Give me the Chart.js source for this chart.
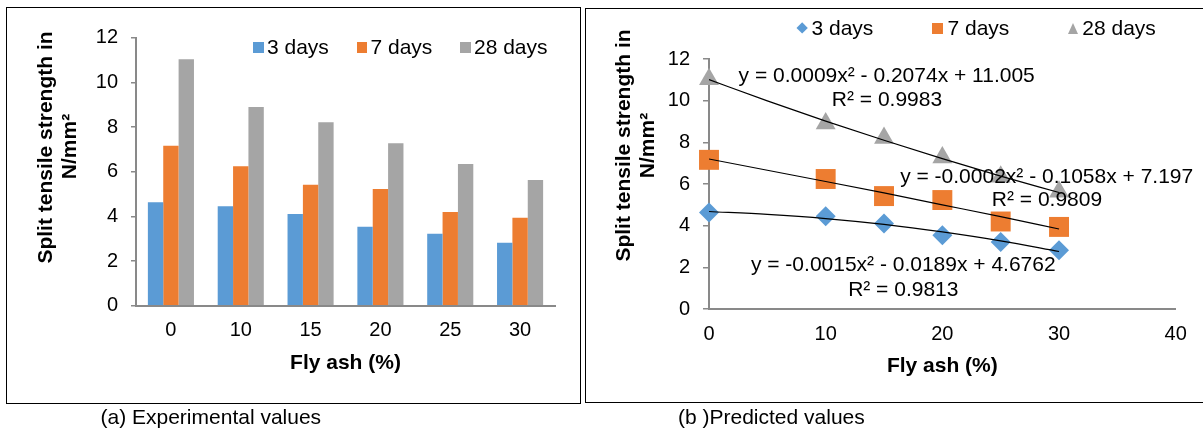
<!DOCTYPE html>
<html>
<head>
<meta charset="utf-8">
<title>Split tensile strength</title>
<script src="https://cdn.jsdelivr.net/npm/chart.js@4.4.1/dist/chart.umd.min.js"></script>
<style>
    html, body { margin: 0; padding: 0; background: #fff; }
    body {
        position: relative;
        width: 1203px;
        height: 432px;
        overflow: hidden;
        font-family: "Liberation Sans", Arial, sans-serif;
        color: #000;
    }
    .panel { position: absolute; border: 1px solid #000; box-sizing: border-box; }
    canvas { position: absolute; top: 0; }
    .txt { position: absolute; white-space: nowrap; }
    .mark { position: absolute; }
</style>
</head>
<body>
<div class="panel" style="left:6px; top:7px; width:575px; height:397px;"></div>
<div class="panel" style="left:585px; top:8px; width:700px; height:395px;"></div>
<canvas id="barChart" width="590" height="432" style="left:0;"></canvas>
<canvas id="scatterChart" width="618" height="432" style="left:585px;"></canvas>

<script>
const flyAsh = [0, 10, 15, 20, 25, 30];
const ageLabels = ['3 days', '7 days', '28 days'];
const strength3 = [4.63, 4.45, 4.11, 3.54, 3.22, 2.82];
const strength7 = [7.16, 6.24, 5.42, 5.23, 4.20, 3.94];
const strength28 = [11.03, 8.90, 8.21, 7.27, 6.35, 5.63];

// trendlines
const trendX = [0, 5, 10, 15, 20, 25, 30];
const trend3 = [4.68, 4.54, 4.34, 4.06, 3.70, 3.27, 2.76];
const trend7 = [7.20, 6.66, 6.12, 5.57, 5.00, 4.43, 3.84];
const trend28 = [11.01, 9.99, 9.02, 8.10, 7.22, 6.38, 5.59];
const trendText = [
    ['y = -0.0015x² - 0.0189x + 4.6762', 'R² = 0.9813'],
    ['y = -0.0002x² - 0.1058x + 7.197', 'R² = 0.9809'],
    ['y = 0.0009x² - 0.2074x + 11.005', 'R² = 0.9983']
];

const yMax = 12, yStep = 2;
const xMax = 40, xStep = 10;

const colors = ['#5B9BD5', '#ED7D31', '#A5A5A5'];
const axisGrey = '#898989';
const family = '"Liberation Sans", Arial, sans-serif';
const tickFont = { family: family, size: 20 };
const titleFont = { family: family, size: 21, weight: 'bold' };

function pts(xs, ys) {
    return xs.map((x, i) => ({ x: x, y: ys[i] }));
}

// text placed by its baseline
function addText(str, x, baseline, opts) {
    opts = opts || {};
    const f = opts.size || 21;
    const el = document.createElement('div');
    el.className = 'txt';
    el.textContent = str;
    el.style.fontSize = f + 'px';
    el.style.lineHeight = f + 'px';
    if (opts.bold) el.style.fontWeight = 'bold';
    el.style.top = (baseline - 0.8465 * f) + 'px';
    if (opts.center) {
        el.style.left = (x - 300) + 'px';
        el.style.width = '600px';
        el.style.textAlign = 'center';
    } else {
        el.style.left = x + 'px';
    }
    document.body.appendChild(el);
}

// rotated axis title line, baseline is a vertical line at baselineX
function addVText(str, baselineX, centerY, f) {
    const el = document.createElement('div');
    el.className = 'txt';
    el.textContent = str;
    el.style.fontSize = f + 'px';
    el.style.lineHeight = f + 'px';
    el.style.fontWeight = 'bold';
    el.style.width = '400px';
    el.style.textAlign = 'center';
    const cx = baselineX - 0.3465 * f;
    el.style.left = (cx - 200) + 'px';
    el.style.top = (centerY - f / 2) + 'px';
    el.style.transform = 'rotate(-90deg)';
    document.body.appendChild(el);
}

function addMark(css) {
    const el = document.createElement('div');
    el.className = 'mark';
    Object.assign(el.style, css);
    document.body.appendChild(el);
}

// (a) Experimental values
new Chart(document.getElementById('barChart'), {
    type: 'bar',
    data: {
        labels: flyAsh,
        datasets: [
            { label: ageLabels[0], data: strength3, backgroundColor: colors[0] },
            { label: ageLabels[1], data: strength7, backgroundColor: colors[1] },
            { label: ageLabels[2], data: strength28, backgroundColor: colors[2] }
        ]
    },
    options: {
        responsive: false,
        animation: false,
        layout: { padding: { left: 0, top: 37.7, right: 35, bottom: 0 } },
        datasets: { bar: { categoryPercentage: 0.66, barPercentage: 1 } },
        plugins: { legend: { display: false }, tooltip: { enabled: false } },
        scales: {
            x: {
                grid: { display: false, drawTicks: false },
                border: { color: axisGrey, width: 2 },
                ticks: { padding: 12.5, color: '#000', font: tickFont },
                title: { display: true, text: 'Fly ash (%)', color: '#000', font: titleFont, padding: { top: 0, bottom: 56.4 } },
                afterFit: (s) => { s.height = 126.3; }
            },
            y: {
                min: 0,
                max: yMax,
                ticks: { stepSize: yStep, padding: 13, color: '#000', font: tickFont },
                grid: { drawOnChartArea: false, drawTicks: true, tickLength: 5, color: axisGrey, lineWidth: 1.5 },
                border: { color: axisGrey, width: 2 },
                afterFit: (s) => { s.width = 136; }
            }
        }
    }
});

// (b) Predicted values
const trendSets = [trend3, trend7, trend28].map((t) => ({
    data: pts(trendX, t),
    showLine: true,
    borderColor: '#000',
    borderWidth: 1.2,
    pointRadius: 0,
    cubicInterpolationMode: 'monotone',
    fill: false,
    order: 0
}));

new Chart(document.getElementById('scatterChart'), {
    type: 'scatter',
    data: {
        datasets: [
            { label: ageLabels[0], data: pts(flyAsh, strength3), pointStyle: 'rectRot', pointRadius: 10, backgroundColor: colors[0], borderWidth: 0, clip: false, order: 1 },
            { label: ageLabels[1], data: pts(flyAsh, strength7), pointStyle: 'rect', pointRadius: 14.1, backgroundColor: colors[1], borderWidth: 0, clip: false, order: 1 },
            { label: ageLabels[2], data: pts(flyAsh, strength28), pointStyle: 'triangle', pointRadius: 11.5, backgroundColor: colors[2], borderWidth: 0, clip: false, order: 1 }
        ].concat(trendSets)
    },
    options: {
        responsive: false,
        animation: false,
        layout: { padding: { left: 0, top: 59, right: 27.3, bottom: 0 } },
        plugins: { legend: { display: false }, tooltip: { enabled: false } },
        scales: {
            x: {
                type: 'linear',
                min: 0,
                max: xMax,
                ticks: { stepSize: xStep, padding: 13, color: '#000', font: tickFont },
                grid: { display: false, drawTicks: false },
                border: { color: axisGrey, width: 2 },
                title: { display: true, text: 'Fly ash (%)', color: '#000', font: titleFont, padding: { top: 0, bottom: 52.7 } },
                afterFit: (s) => { s.height = 123; }
            },
            y: {
                min: 0,
                max: yMax,
                ticks: { stepSize: yStep, padding: 13, color: '#000', font: tickFont },
                grid: { drawOnChartArea: false, drawTicks: true, tickLength: 6, color: axisGrey, lineWidth: 1.5 },
                border: { color: axisGrey, width: 2 },
                afterFit: (s) => { s.width = 124; }
            }
        }
    }
});

// axis titles
addVText('Split tensile strength in', 51.7, 147.5, 21);
addVText('N/mm²', 75, 146.5, 21);
addVText('Split tensile strength in', 629.3, 145.8, 21);
addVText('N/mm²', 653.3, 145, 21);

// legend (a)
[253, 356.7, 460].forEach((x, i) => {
    addMark({ left: x + 'px', top: '42px', width: '10.5px', height: '10.5px', background: colors[i] });
});
addText(ageLabels[0], 267, 53.5);
addText(ageLabels[1], 370.5, 53.5);
addText(ageLabels[2], 474, 53.5);

// legend (b)
addMark({ left: '798.4px', top: '24.2px', width: '8.3px', height: '8.3px', background: colors[0], transform: 'rotate(45deg)' });
addMark({ left: '931.7px', top: '22.5px', width: '11.5px', height: '11.5px', background: colors[1] });
addMark({ left: '1067.7px', top: '22.7px', width: '0', height: '0', borderLeft: '5.7px solid transparent', borderRight: '5.7px solid transparent', borderBottom: '11.3px solid ' + colors[2] });
addText(ageLabels[0], 811.5, 35);
addText(ageLabels[1], 947.5, 35);
addText(ageLabels[2], 1082.3, 35);

// trendline equations
addText(trendText[2][0], 886.7, 81.7, { center: true });
addText(trendText[2][1], 887, 105.3, { center: true });
addText(trendText[1][0], 1046.7, 182.7, { center: true });
addText(trendText[1][1], 1047, 206, { center: true });
addText(trendText[0][0], 903.3, 271, { center: true });
addText(trendText[0][1], 903.3, 295.3, { center: true });

// captions
addText('(a) Experimental values', 100.5, 424);
addText('(b )Predicted values', 678, 423.7);
</script>
</body>
</html>
